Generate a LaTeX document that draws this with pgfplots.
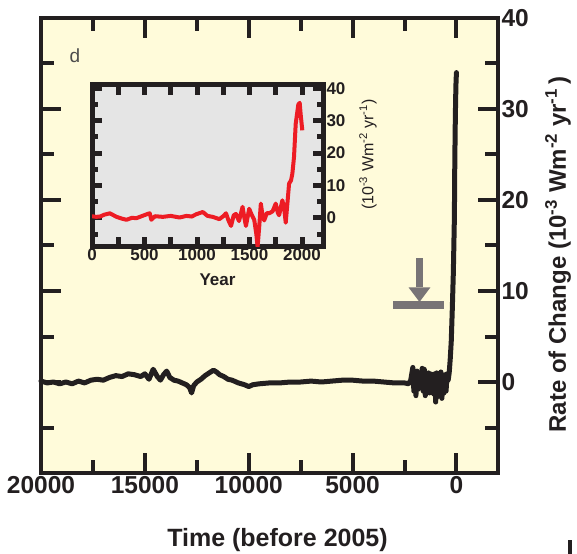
\documentclass[border=0pt]{standalone}
\usepackage{fontspec}
\setmainfont{Liberation Sans}
\usepackage{pgfplots}
\pgfplotsset{compat=1.18}
\usetikzlibrary{calc}
\definecolor{cream}{RGB}{255,251,218}
\definecolor{insetgray}{RGB}{229,229,229}
\definecolor{curveblack}{RGB}{35,31,32}
\definecolor{curvered}{RGB}{237,28,36}
\definecolor{arrowgray}{RGB}{120,116,118}
\begin{document}
\begin{tikzpicture}
\begin{axis}[
  name=main,
  scale only axis,
  width=457bp, height=455bp,
  x dir=reverse,
  xmin=-2000, xmax=20000, ymin=-10, ymax=40,
  xtick={0,5000,10000,15000,20000},
  minor xtick={2500,7500,12500,17500},
  scaled x ticks=false,
  ytick={0,10,20,30,40},
  minor ytick={-5,5,15,25,35},
  yticklabel pos=right,
  axis background/.style={fill=cream},
  axis line style={line width=4bp, curveblack},
  every tick/.style={line width=4bp, curveblack},
  major tick length=20bp, minor tick length=13bp,
  /pgf/number format/assume math mode=true,
  /pgf/number format/1000 sep={},
  tick label style={font=\bfseries\fontsize{24.5bp}{27bp}\selectfont, text=curveblack},
  xlabel={Time (before 2005)},
  xlabel style={font=\bfseries\fontsize{25bp}{28bp}\selectfont, text=curveblack,
    at={(rel axis cs:0.5,0)}, anchor=center, xshift=8bp, yshift=-67bp},
  ylabel={Rate of Change (10\textsuperscript{-3} Wm\textsuperscript{-2} yr\textsuperscript{-1}\,)},
  ylabel style={font=\bfseries\fontsize{24bp}{27bp}\selectfont, text=curveblack,
    at={(rel axis cs:1,0.48)}, anchor=center, yshift=-60bp},
  clip=false,
]
\addplot[curveblack, line width=5bp, line join=round, line cap=round] coordinates {
(20000,0.1) (19700,-0.1) (19400,0.0) (19100,-0.2) (18800,0.0) (18500,-0.2)
(18200,0.1) (17900,-0.1) (17600,0.2) (17300,0.3) (17000,0.2) (16700,0.5)
(16400,0.7) (16100,0.6) (15800,0.9) (15500,0.8) (15200,0.6) (15000,0.9)
(14800,0.3) (14600,1.4) (14400,0.6) (14250,0.2) (14100,0.8) (13950,1.2)
(13800,0.5) (13600,0.2) (13400,0.1) (13200,-0.1) (13000,-0.3) (12850,-0.6)
(12750,-1.2) (12650,-0.4) (12500,0.0) (12300,0.3) (12100,0.7) (11900,1.0)
(11700,1.3) (11550,1.1) (11400,0.8) (11200,0.6) (11000,0.3) (10800,0.2)
(10500,-0.1) (10200,-0.3) (10000,-0.5) (9800,-0.3) (9500,-0.2) (9000,-0.1)
(8500,-0.1) (8000,0.0) (7500,0.0) (7000,0.1) (6500,0.0) (6000,0.1)
(5500,0.2) (5000,0.2) (4500,0.1) (4000,0.1) (3500,0.0) (3000,-0.1)
(2500,-0.1) (2300,-0.2) (2200,0.2) (2100,1.6) (2050,-1.0) (2000,0.5)
(1950,-1.5) (1900,1.2) (1850,-0.8) (1800,0.6) (1700,-0.5) (1650,1.5)
(1600,-1.0) (1550,1.4) (1500,-1.5) (1450,0.8) (1400,-0.9) (1350,1.0)
(1300,-1.2) (1250,0.9) (1200,-0.6) (1150,0.8) (1100,-1.3) (1050,0.9)
(1000,-2.2) (950,1.0) (900,-1.6) (850,0.8) (800,-1.0) (750,1.1)
(700,-1.8) (650,0.7) (600,-1.2) (550,0.8) (500,-1.0) (450,0.9)
(400,0.2) (350,1.0) (300,2.5) (250,4.5) (200,8.0) (150,12)
(100,18) (80,24) (60,28) (40,31) (20,33) (0,34)
};
% grey marker: bar and down arrow
\fill[arrowgray] (3077,8.02) rectangle (577,8.9);
\fill[arrowgray] (1971,13.6) rectangle (1587,10.4);
\fill[arrowgray] (2308,10.4) -- (1250,10.4) -- (1779,8.8) -- cycle;
\node[font=\fontsize{19bp}{22bp}\selectfont, text=black!70, anchor=center] at (18365,35.9) {d};
\end{axis}

\begin{axis}[
  at={($(main.south west)+(51bp,226bp)$)}, anchor=south west,
  scale only axis,
  width=231bp, height=162bp,
  xmin=0, xmax=2200, ymin=-9, ymax=41,
  xtick={0,250,...,2000},
  xticklabels={0,,500,,1000,,1500,,2000},
  ytick={0,10,20,30,40},
  minor ytick={-5,5,15,25,35},
  yticklabel pos=right,
  axis background/.style={fill=insetgray},
  axis line style={line width=5bp, curveblack},
  every tick/.style={line width=5bp, curveblack},
  major tick length=10bp, minor tick length=6bp,
  /pgf/number format/assume math mode=true,
  /pgf/number format/1000 sep={},
  tick label style={font=\bfseries\fontsize{17bp}{19bp}\selectfont, text=curveblack},
  xticklabel style={yshift=2bp},
  xlabel={Year},
  xlabel style={font=\bfseries\fontsize{17bp}{19bp}\selectfont, text=curveblack,
    at={(rel axis cs:0.5,0)}, anchor=center, xshift=10bp, yshift=-33bp},
  ylabel={(10\textsuperscript{-3} Wm\textsuperscript{-2} yr\textsuperscript{-1})},
  ylabel style={font=\fontsize{16bp}{18bp}\selectfont, text=curveblack,
    at={(rel axis cs:1,0.57)}, anchor=center, yshift=-45bp},
]
\addplot[curvered, line width=4bp, line join=round] coordinates {
(0,0.5) (40,0.3) (76,0.4) (120,1.0) (170,1.4) (234,0.3) (280,-0.2)
(329,-0.6) (380,0.0) (423,-0.1) (480,0.6) (530,1.2) (550,1.4) (565,-0.6)
(600,0.5) (675,0.3) (750,0.6) (834,0.1) (900,0.6) (950,0.4) (992,1.1)
(1055,1.8) (1100,0.6) (1150,0.3) (1213,-0.4) (1250,0.5) (1276,1.4)
(1300,-0.8) (1324,-2.5) (1350,0.8) (1371,1.2) (1400,-1.0) (1434,3.4)
(1450,0.2) (1466,-2.5) (1497,2.8) (1520,1.0) (1545,-0.6) (1565,-5.0)
(1577,-9.0) (1592,-3.0) (1608,4.4) (1625,0.5) (1640,-0.8) (1665,1.5)
(1687,1.4) (1720,2.0) (1750,4.4) (1770,1.5) (1782,0.8) (1800,3.5)
(1813,5.4) (1830,3.0) (1845,-1.5) (1865,6.0) (1877,10.6) (1895,11.5)
(1908,13.6) (1924,18.8) (1940,29.0) (1965,35.0) (1978,35.5) (1987,32.0)
(2003,27.0)
};
\end{axis}
\fill[curveblack] ($(main.south west)+(527bp,-81bp)$) rectangle +(4bp,14bp);
\pgfresetboundingbox
\path[use as bounding box] ($(main.south west)+(-41bp,-81bp)$) rectangle ($(main.south west)+(536bp,473bp)$);
\end{tikzpicture}
\end{document}
